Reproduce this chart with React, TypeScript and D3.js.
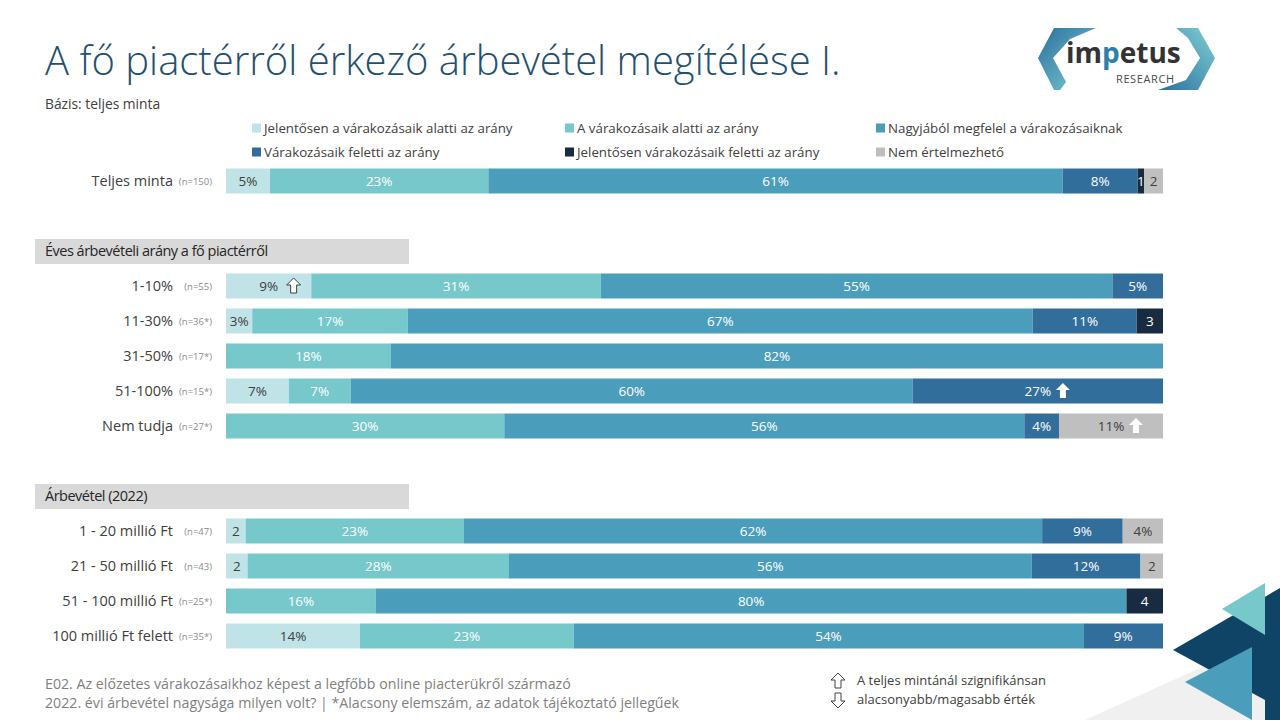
import * as d3 from 'd3';

const FONT = '"Open Sans", "Noto Sans", sans-serif';

const seriesNames = [
    'Jelentősen a várakozásaik alatti az arány',
    'A várakozásaik alatti az arány',
    'Nagyjából megfelel a várakozásaiknak',
    'Várakozásaik feletti az arány',
    'Jelentősen várakozásaik feletti az arány',
    'Nem értelmezhető',
];
const seriesColors = ['#bfe3e6', '#76c8cb', '#4b9ebb', '#326e9b', '#182b40', '#bfbfbf'];
// which series get dark text on them
const darkText = [true, false, false, false, false, true];

const rowLabels = [
    'Teljes minta',
    '1-10%',
    '11-30%',
    '31-50%',
    '51-100%',
    'Nem tudja',
    '1 - 20 millió Ft',
    '21 - 50 millió Ft',
    '51 - 100 millió Ft',
    '100 millió Ft felett',
];
const rowN = ['(n=150)', '(n=55)', '(n=36*)', '(n=17*)', '(n=15*)', '(n=27*)', '(n=47)', '(n=43)', '(n=25*)', '(n=35*)'];
// slot index in the vertical layout (headers and gaps take slots too)
const rowSlots = [0, 3, 4, 5, 6, 7, 10, 11, 12, 13];

const values = [
    [4.7, 23.3, 61.3, 8.0, 0.7, 2.0],
    [9.1, 30.9, 54.6, 5.4, 0, 0],
    [2.8, 16.6, 66.7, 11.1, 2.8, 0],
    [0, 17.6, 82.4, 0, 0, 0],
    [6.7, 6.6, 60.0, 26.7, 0, 0],
    [0, 29.7, 55.5, 3.7, 0, 11.1],
    [2.1, 23.3, 61.7, 8.6, 0, 4.3],
    [2.3, 27.9, 55.8, 11.6, 0, 2.4],
    [0, 16.0, 80.1, 0, 3.9, 0],
    [14.3, 22.8, 54.4, 8.5, 0, 0],
];
// segments whose label is written without the % sign: [row, series]
const barePct = [[0, 4], [0, 5], [2, 4], [6, 0], [7, 0], [7, 5], [8, 4]];
// significance arrows: [row, series, filled]
const arrows: [number, number, boolean][] = [
    [1, 0, false],
    [4, 3, true],
    [5, 5, true],
];

const sections = [
    { slot: 2, label: 'Éves árbevételi arány a fő piactérről' },
    { slot: 9, label: 'Árbevétel (2022)' },
];

function UpArrow({ x, y, filled, down }: { x: number; y: number; filled: boolean; down?: boolean }) {
    const p = 'M0,-8 L7,-1 L3,-1 L3,7 L-3,7 L-3,-1 L-7,-1 Z';
    return (
        <path
            d={p}
            transform={`translate(${x},${y})${down ? ' rotate(180)' : ''}`}
            fill="#ffffff"
            stroke={filled ? 'none' : '#404040'}
            strokeWidth={1}
            strokeLinejoin="round"
        />
    );
}

export default function App() {
    const width = 1280;
    const height = 720;
    const x = d3.scaleLinear().domain([0, 100]).range([226, 1163]);
    const y = d3.scaleLinear().domain([0, 13]).range([181, 636]);
    const barH = 25;

    const table = values.map((v) => {
        const o: Record<string, number> = {};
        v.forEach((d, i) => (o[`s${i}`] = d));
        return o;
    });
    const stack = d3.stack<Record<string, number>>().keys(seriesNames.map((_, i) => `s${i}`))(table);

    return (
        <svg
            width={width}
            height={height}
            viewBox={`0 0 ${width} ${height}`}
            style={{ position: 'absolute', left: 0, top: 0, fontFamily: FONT }}
        >
            <rect width={width} height={height} fill="#ffffff" />

            {/* decoration bottom right */}
            <polygon points="1085,720 1280,632 1280,720" fill="#f0f0f0" />
            <polygon points="1173,650 1280,588 1280,720 1265,720 1265,700" fill="#0f4466" />
            <polygon points="1222,609 1265,583 1265,635" fill="#76c8cb" />
            <polygon points="1185,682 1252,647 1252,720" fill="#4b9ebb" />

            {/* logo */}
            <defs>
                <linearGradient id="lg1" x1="0" x2="1" y1="0" y2="1">
                    <stop offset="0" stopColor="#2a6f9e" />
                    <stop offset="1" stopColor="#7fd0d4" />
                </linearGradient>
                <linearGradient id="lg2" x1="1" x2="0" y1="0" y2="1">
                    <stop offset="0" stopColor="#7fd0d4" />
                    <stop offset="1" stopColor="#2a6f9e" />
                </linearGradient>
            </defs>
            <polygon points="1054,28 1096,28 1070,39 1053,58 1066,82 1060,90 1054,90 1038,58" fill="url(#lg1)" />
            <polygon points="1176,28 1198,28 1215,58 1198,90 1158,90 1186,80 1200,58 1188,38" fill="url(#lg2)" />
            <text x={1066} y={63} fontSize={28} fontWeight={700} fill="#333" fontFamily={FONT}>
                im<tspan fill="#2d7fae">p</tspan>etus
            </text>
            <text x={1116} y={83} fontSize={11} fill="#4a4a4a" letterSpacing={0.6} fontFamily={FONT}>
                RESEARCH
            </text>

            {/* title */}
            <text x={45} y={75} fontSize={40} fontWeight={300} fill="#23506f">
                A fő piactérről érkező árbevétel megítélése I.
            </text>
            <text x={45} y={109} fontSize={13.8} fill="#404040">
                Bázis: teljes minta
            </text>

            {/* legend */}
            {seriesNames.map((name, i) => {
                const col = i % 3;
                const row = Math.floor(i / 3);
                const lx = [252, 565, 876][col];
                const ly = [128, 152][row];
                return (
                    <g key={name}>
                        <rect x={lx} y={ly - 4.5} width={9} height={9} fill={seriesColors[i]} />
                        <text x={lx + 12} y={ly + 5} fontSize={13.3} fill="#404040">
                            {name}
                        </text>
                    </g>
                );
            })}

            {/* section headers */}
            {sections.map((s) => (
                <g key={s.label}>
                    <rect x={35} y={y(s.slot) - 12} width={374} height={25} fill="#d9d9d9" />
                    <text x={45} y={y(s.slot) + 5} fontSize={14.5} fill="#262626" letterSpacing={-0.5}>
                        {s.label}
                    </text>
                </g>
            ))}

            {/* row labels */}
            {rowLabels.map((lab, r) => (
                <g key={lab}>
                    <text x={173} y={y(rowSlots[r]) + 5} fontSize={14.5} textAnchor="end" fill="#404040">
                        {lab}
                    </text>
                    <text x={212} y={y(rowSlots[r]) + 4} fontSize={9.5} textAnchor="end" fill="#8c8c8c">
                        {rowN[r]}
                    </text>
                </g>
            ))}

            {/* bars */}
            {stack.map((layer, si) =>
                layer.map((d, r) => {
                    const v = values[r][si];
                    if (!v) return null;
                    const x0 = x(d[0]);
                    const x1 = x(d[1]);
                    const cy = y(rowSlots[r]);
                    const bare = barePct.some(([br, bs]) => br === r && bs === si);
                    const label = `${Math.round(v)}${bare ? '' : '%'}`;
                    return (
                        <g key={`${si}-${r}`}>
                            <rect x={x0} y={cy - barH / 2} width={x1 - x0} height={barH} fill={seriesColors[si]} />
                            <text
                                x={(x0 + x1) / 2}
                                y={cy + 5}
                                fontSize={13.5}
                                textAnchor="middle"
                                fill={darkText[si] ? '#404040' : '#ffffff'}
                            >
                                {label}
                            </text>
                        </g>
                    );
                })
            )}

            {/* significance arrows */}
            {arrows.map(([r, si, filled]) => {
                const seg = stack[si][r];
                const cx = (x(seg[0]) + x(seg[1])) / 2 + 25;
                return <UpArrow key={`${r}-${si}`} x={cx} y={y(rowSlots[r])} filled={filled} />;
            })}

            {/* footer */}
            <text x={45} y={689} fontSize={14.2} fill="#7f7f7f">
                E02. Az előzetes várakozásaikhoz képest a legfőbb online piacterükről származó
            </text>
            <text x={45} y={708} fontSize={14.2} fill="#7f7f7f">
                2022. évi árbevétel nagysága milyen volt? | *Alacsony elemszám, az adatok tájékoztató jellegűek
            </text>

            <UpArrow x={838} y={681} filled={false} />
            <UpArrow x={838} y={700} filled={false} down />
            <text x={857} y={685} fontSize={13} fill="#404040">
                A teljes mintánál szignifikánsan
            </text>
            <text x={857} y={704} fontSize={13} fill="#404040">
                alacsonyabb/magasabb érték
            </text>
        </svg>
    );
}
